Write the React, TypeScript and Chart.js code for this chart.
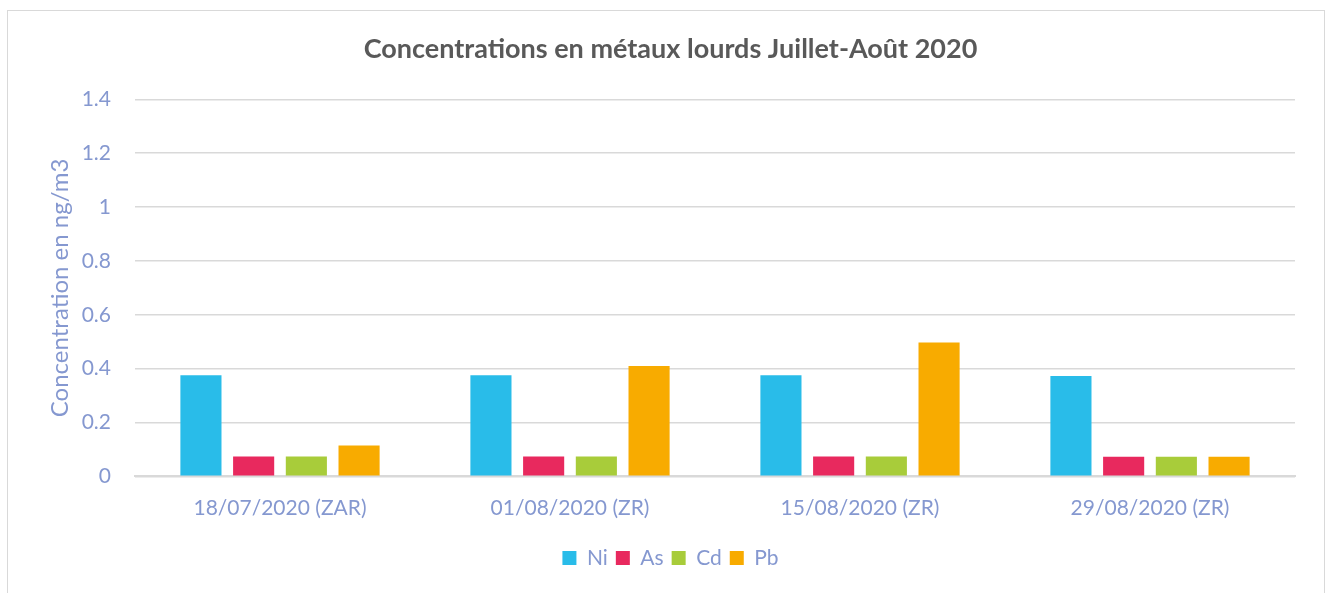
import React, { useEffect, useRef } from "react";
import { Chart, registerables } from "chart.js";

Chart.register(...registerables);

const categories = ["18/07/2020 (ZAR)", "01/08/2020 (ZR)", "15/08/2020 (ZR)", "29/08/2020 (ZR)"];
const seriesNames = ["Ni", "As", "Cd", "Pb"];
const niValues = [0.375, 0.375, 0.375, 0.373];
const asValues = [0.074, 0.074, 0.074, 0.073];
const cdValues = [0.074, 0.074, 0.074, 0.073];
const pbValues = [0.114, 0.41, 0.497, 0.073];
const seriesColors = ["#29BCE9", "#E8295E", "#A8CC3A", "#F8AB00"];
const yTicks = [0, 0.2, 0.4, 0.6, 0.8, 1, 1.2, 1.4];

const FONT = "Lato";
const TEXT_BLUE = "#8598D0";

export default function App() {
  const ref = useRef<HTMLCanvasElement | null>(null);
  useEffect(() => {
    const values = [niValues, asValues, cdValues, pbValues];
    const chart = new Chart(ref.current!, {
      type: "bar",
      data: {
        labels: categories,
        datasets: seriesNames.map((n, i) => ({
          label: n,
          data: values[i],
          backgroundColor: seriesColors[i],
          borderWidth: 0,
          categoryPercentage: 0.727,
          barPercentage: 0.78,
        })),
      },
      options: {
        animation: false,
        responsive: false,
        maintainAspectRatio: false,
        layout: { padding: { left: 38, right: 29, top: 22, bottom: 14.5 } },
        plugins: {
          title: {
            display: true,
            text: "Concentrations en métaux lourds Juillet-Août 2020",
            color: "#595959",
            font: { family: FONT, size: 27, weight: "bold" },
            padding: { top: 0, bottom: 34 },
          },
          legend: {
            position: "bottom",
            labels: {
              color: TEXT_BLUE,
              font: { family: FONT, size: 21 },
              boxWidth: 14,
              boxHeight: 14,
              padding: 8,
            },
          },
          tooltip: { enabled: false },
        },
        scales: {
          x: {
            grid: { display: false, drawTicks: false },
            border: { color: "#D9D9D9", width: 2 },
            ticks: { color: TEXT_BLUE, font: { family: FONT, size: 21 }, padding: 19 },
          },
          y: {
            min: 0,
            max: 1.4,
            afterBuildTicks: (s: any) => {
              s.ticks = yTicks.map((v) => ({ value: v }));
            },
            afterFit: (s: any) => {
              s.width = 89;
            },
            grid: { color: "#D9D9D9", lineWidth: 1.5, drawTicks: false },
            border: { display: false },
            ticks: {
              color: TEXT_BLUE,
              font: { family: FONT, size: 21 },
              padding: 24,
              callback: (v: any) => String(Math.round(Number(v) * 10) / 10),
            },
            title: {
              display: true,
              text: "Concentration en ng/m3",
              color: TEXT_BLUE,
              font: { family: FONT, size: 24 },
              padding: 0,
            },
          },
        },
      },
    });
    return () => chart.destroy();
  }, []);
  return (
    <div
      style={{
        position: "absolute",
        left: 7,
        top: 10,
        width: 1316,
        height: 583,
        borderTop: "1px solid #D9D9D9",
        borderLeft: "1px solid #D9D9D9",
        borderRight: "1px solid #D9D9D9",
        background: "#fff",
      }}
    >
      <canvas ref={ref} width={1316} height={582} style={{ display: "block" }} />
    </div>
  );
}
